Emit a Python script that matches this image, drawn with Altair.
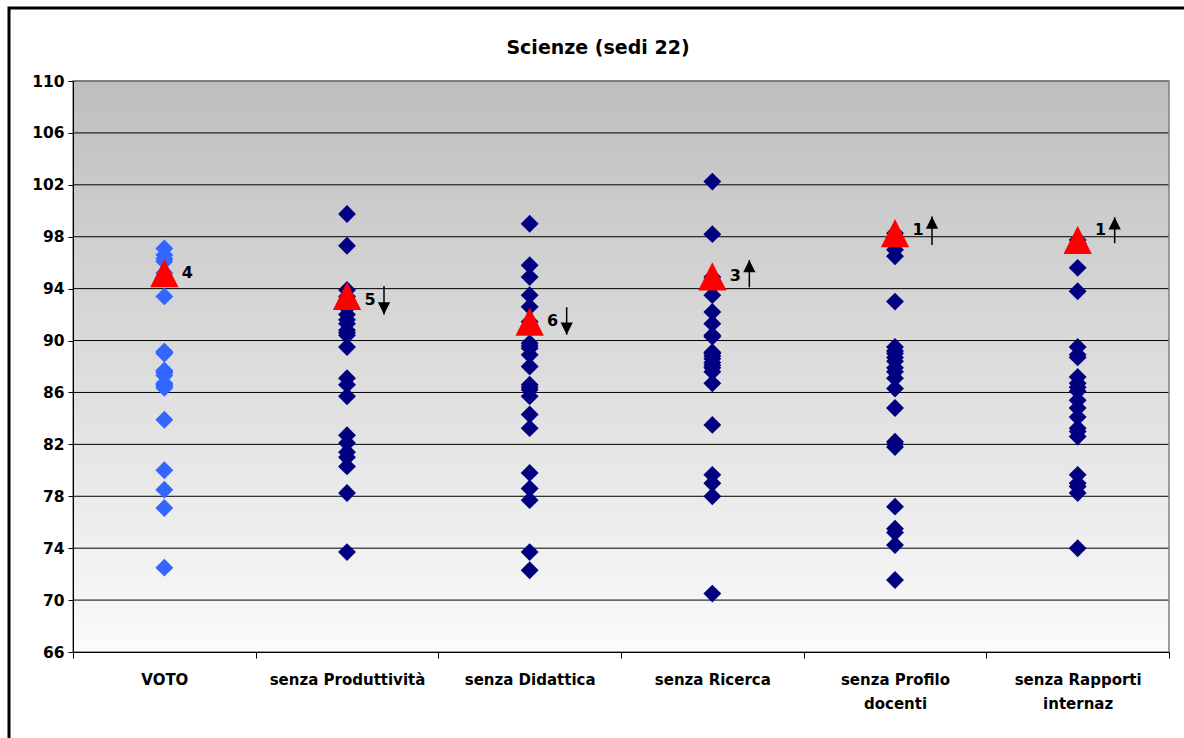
import altair as alt
import pandas as pd

# ---- data ----
categorie = ["VOTO", "senza Produttività", "senza Didattica", "senza Ricerca",
             "senza Profilo docenti", "senza Rapporti internaz"]

voto = [97.1, 96.6, 96.3, 96.1, 95.2, 93.4, 89.15, 89.1, 89.0, 87.7, 87.6, 87.5,
        87.3, 86.7, 86.6, 86.5, 86.35, 83.9, 80.0, 78.5, 77.1, 72.5]
senza_produttivita = [99.75, 97.3, 93.9, 93.4, 92.5, 92.0, 91.6, 91.3, 90.8, 90.6, 90.4,
                      89.5, 87.1, 86.6, 85.7, 82.7, 82.1, 81.4, 81.0, 80.3, 78.25, 73.7]
senza_didattica = [99.0, 95.8, 94.9, 93.5, 92.6, 91.45, 89.8, 89.6, 89.4, 88.9, 88.0,
                   86.6, 86.4, 86.2, 85.7, 84.3, 83.25, 79.8, 78.6, 77.7, 73.7, 72.3]
senza_ricerca = [102.25, 98.2, 94.9, 93.5, 92.2, 91.3, 90.4, 90.3, 89.1, 89.0, 88.8,
                 88.6, 88.3, 88.1, 87.9, 87.6, 86.7, 83.5, 79.65, 79.0, 78.0, 70.5]
senza_profilo = [98.27, 97.0, 96.5, 93.0, 89.5, 89.2, 89.0, 88.7, 88.4, 87.9, 87.6,
                 87.1, 86.3, 84.8, 82.2, 82.0, 81.8, 77.2, 75.5, 75.2, 74.25, 71.55]
senza_rapporti = [97.75, 97.5, 95.6, 93.8, 89.5, 88.9, 88.7, 87.2, 86.7, 86.4, 86.1,
                  85.4, 84.8, 84.1, 83.25, 83.0, 82.6, 79.65, 79.0, 78.75, 78.25, 74.0]

# highlighted sede (red triangle) and its rank label
sede_valori = [95.2, 93.45, 91.45, 94.95, 98.27, 97.75]
rank_testo = ["4", "5", "6", "3", "1", "1"]
rank_pos = [95.2, 93.15, 91.5, 94.95, 98.5, 98.55]

# arrows (change of rank)
freccia_cat = categorie[1:]
freccia_dir = ["giu", "giu", "su", "su", "su"]
freccia_coda = [94.2, 92.57, 94.1, 97.37, 97.5]
freccia_punta = [92.0, 90.45, 96.2, 99.55, 99.5]

tick_y = list(range(66, 111, 4))
titolo = "Scienze (sedi 22)"

# ---- tables ----
serie = [voto, senza_produttivita, senza_didattica, senza_ricerca, senza_profilo, senza_rapporti]
punti = pd.DataFrame([{"categoria": c, "valore": v} for c, s in zip(categorie, serie) for v in s])
sede = pd.DataFrame({"categoria": categorie, "valore": sede_valori,
                     "testo": rank_testo, "pos": rank_pos})
frecce = pd.DataFrame({"categoria": freccia_cat, "dir": freccia_dir,
                       "coda": freccia_coda, "punta": freccia_punta})
griglia = pd.DataFrame({"v": tick_y[1:]})

W, H = 1096, 571
FONT = "DejaVu Sans"

xsc = alt.Scale(domain=categorie, paddingInner=0, paddingOuter=0)
ysc = alt.Scale(domain=[66, 110], nice=False, zero=False)

label_expr = ("datum.label == 'senza Profilo docenti' ? ['senza Profilo', 'docenti'] : "
              "datum.label == 'senza Rapporti internaz' ? ['senza Rapporti', 'internaz'] : datum.label")

xax = alt.Axis(title=None, labelAngle=0, labelFont=FONT, labelFontSize=15, labelFontWeight="bold",
               labelColor="black", labelExpr=label_expr, labelLineHeight=24, tickBand="extent",
               tickSize=6, tickColor="black", domainColor="black", labelPadding=14, grid=False,
               zindex=1)
yax = alt.Axis(title=None, values=tick_y, labelFont=FONT, labelFontSize=15.5, labelFontWeight="bold",
               labelColor="black", tickSize=5, tickColor="black", domainColor="black",
               labelPadding=4, grid=False, zindex=1)

X = alt.X("categoria:N", scale=xsc, axis=xax, sort=categorie)
Y = alt.Y("valore:Q", scale=ysc, axis=yax)

bg = alt.Chart(alt.Data(values=[{}])).mark_rect(
    color=alt.LinearGradient(gradient="linear",
                             stops=[alt.GradientStop(color="#BEBEBE", offset=0),
                                    alt.GradientStop(color="#FBFBFB", offset=1)],
                             x1=0, x2=0, y1=0, y2=1)
).encode(x=alt.value(0), x2=alt.value(W), y=alt.value(0), y2=alt.value(H))

bordo = alt.Chart(alt.Data(values=[{}])).mark_rect(
    filled=False, stroke="#808080", strokeWidth=1.5
).encode(x=alt.value(0), x2=alt.value(W), y=alt.value(0), y2=alt.value(H))

grid = alt.Chart(griglia).mark_rule(color="black", strokeWidth=1).encode(
    y=alt.Y("v:Q", scale=ysc, axis=yax), x=alt.value(0), x2=alt.value(W))

diam = alt.Chart(punti).mark_point(shape="diamond", filled=True, size=320, opacity=1).encode(
    x=X, y=Y,
    color=alt.condition(alt.datum.categoria == "VOTO", alt.value("#3366FF"), alt.value("#000080")))

tri = alt.Chart(sede).mark_point(shape="M0,-1L1,1L-1,1Z", filled=True, size=800,
                                 color="#FF0000", opacity=1).encode(x=X, y=Y)

lab = alt.Chart(sede).mark_text(font=FONT, fontSize=16, fontWeight="bold", color="black",
                                dx=23, align="center", baseline="middle").encode(
    x=X, y=alt.Y("pos:Q", scale=ysc), text="testo:N")

shaft = alt.Chart(frecce).mark_rule(color="black", strokeWidth=1.5, xOffset=37).encode(
    x=alt.X("categoria:N", scale=xsc, sort=categorie),
    y=alt.Y("coda:Q", scale=ysc), y2="punta:Q")

head = alt.Chart(frecce).mark_point(filled=True, size=150, color="black", opacity=1,
                                    xOffset=37).encode(
    x=alt.X("categoria:N", scale=xsc, sort=categorie),
    y=alt.Y("punta:Q", scale=ysc),
    shape=alt.Shape("dir:N", scale=alt.Scale(domain=["su", "giu"],
                                              range=["M-1,2L1,2L0,0Z", "M-1,-2L1,-2L0,0Z"]),
                    legend=None))

title = alt.Chart(alt.Data(values=[{"t": titolo}])).mark_text(
    font=FONT, fontSize=19, fontWeight="bold", color="black", align="center", baseline="middle"
).encode(x=alt.value(525), y=alt.value(-33), text="t:N")

frame = alt.Chart(alt.Data(values=[{}])).mark_rect(
    filled=False, stroke="black", strokeWidth=3
).encode(x=alt.value(-64), x2=alt.value(W + 60), y=alt.value(-73), y2=alt.value(H + 120))

chart = alt.layer(bg, grid, bordo, diam, tri, lab, shaft, head, title, frame).properties(
    width=W, height=H, autosize="none",
    padding={"left": 73, "top": 81, "right": 15, "bottom": 86},
    background="white"
).configure_view(stroke=None)

chart.save("out.html", embed_options={"renderer": "svg", "actions": False})
